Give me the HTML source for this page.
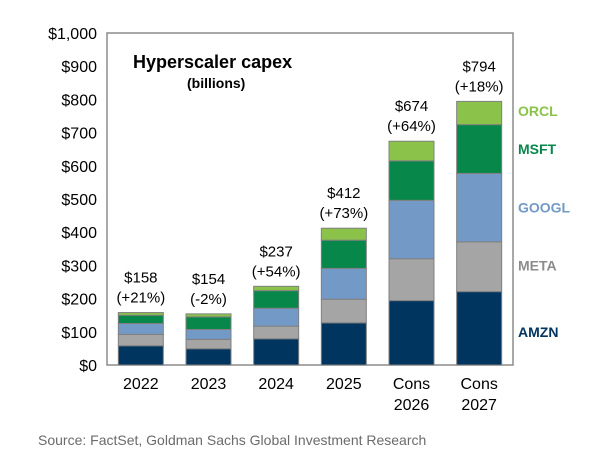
<!DOCTYPE html>
<html><head><meta charset="utf-8"><style>
body{margin:0;background:#fff;width:603px;height:465px;overflow:hidden;font-family:"Liberation Sans",Arial,sans-serif}
</style></head><body>
<svg id="chart" width="603" height="465" xmlns="http://www.w3.org/2000/svg" font-family="Liberation Sans, Arial, sans-serif"></svg>
<script>
const categories=[["2022"],["2023"],["2024"],["2025"],["Cons","2026"],["Cons","2027"]];
const amzn=[58,49,79,127,194,221];
const meta=[34,28,38,71,126,150];
const googl=[33,30,54,93,176,206];
const msft=[25,38,53,85,119,147];
const orcl=[8,9,13,36,59,70];
const totals=["$158","$154","$237","$412","$674","$794"];
const growth=["(+21%)","(-2%)","(+54%)","(+73%)","(+64%)","(+18%)"];
const yTicks=[0,100,200,300,400,500,600,700,800,900,1000];
const yTickLabels=["$0","$100","$200","$300","$400","$500","$600","$700","$800","$900","$1,000"];
const seriesNames=["AMZN","META","GOOGL","MSFT","ORCL"];
const seriesData=[amzn,meta,googl,msft,orcl];
const colors=["#003560","#a5a5a5","#7399c6","#07874a","#8bc34a"];
const legendColors=["#003560","#8c8c8c","#7399c6","#07874a","#8bc34a"];
const legendValues=[100,300,475,650,765];

const svg=document.getElementById('chart');
const NS="http://www.w3.org/2000/svg";
const L=107,R=513,T=33,B=365,yMax=1000;
const y=v=>B-(v/yMax)*(B-T);
const cw=(R-L)/categories.length;
const xc=i=>L+cw*(i+0.5);
const bw=45;
function mk(tag,attrs,txt){const e=document.createElementNS(NS,tag);for(const k in attrs)e.setAttribute(k,attrs[k]);if(txt!==undefined)e.textContent=txt;svg.appendChild(e);return e;}

let f=mk('rect',{x:L,y:T,width:R-L,height:B-T,fill:'none',stroke:'#8c8c8c','stroke-width':1.5});



yTicks.forEach((v,i)=>{
 const t=mk('text',{x:97,y:y(v)+6,'text-anchor':'end','font-size':16,fill:'#000'},yTickLabels[i]);
 
 
});

categories.forEach((c,i)=>{
 let cum=0;
 seriesData.forEach((s,k)=>{
  const r=mk('rect',{x:xc(i)-bw/2,y:y(cum+s[i]),width:bw,height:y(cum)-y(cum+s[i]),fill:colors[k],stroke:'#808080','stroke-width':1});
  
  
  cum+=s[i];
 });
 const top=y(cum);
 const t1=mk('text',{x:xc(i),y:top-30,'text-anchor':'middle','font-size':15},totals[i]);
 
 
 const t2=mk('text',{x:xc(i),y:top-10,'text-anchor':'middle','font-size':15},growth[i]);
 
 
 c.forEach((line,j)=>{
  const xl=mk('text',{x:xc(i),y:389+j*21,'text-anchor':'middle','font-size':16},line);
  
  
 });
});

seriesNames.forEach((n,k)=>{
 const lg=mk('text',{x:518,y:y(legendValues[k])+5,'font-size':14,'font-weight':'bold',fill:legendColors[k]},n);
 
 
});

const tt=mk('text',{x:133,y:68,'font-size':18,'font-weight':'bold'},'Hyperscaler capex');


const st=mk('text',{x:187,y:88,'font-size':14,'font-weight':'bold'},'(billions)');


const src=mk('text',{x:38,y:445,'font-size':14,fill:'#6b6b6b'},'Source: FactSet, Goldman Sachs Global Investment Research');


</script>
</body></html>
